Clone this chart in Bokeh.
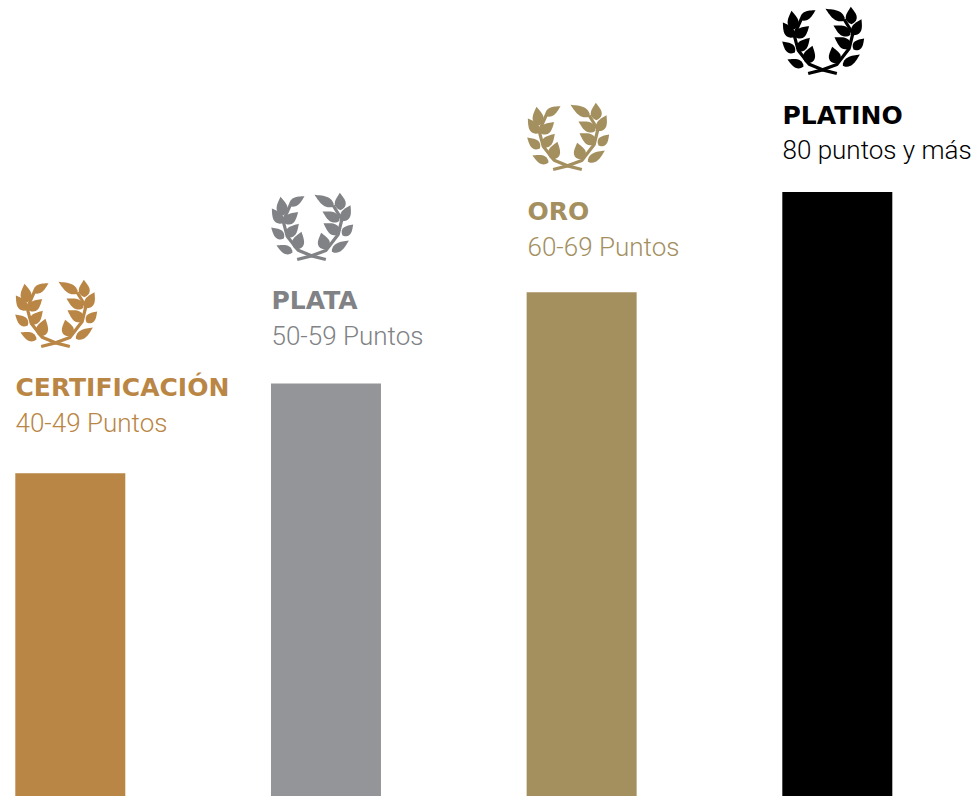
import math
from bokeh.plotting import figure
from bokeh.models import Range1d
from bokeh.core.properties import value
from bokeh.embed import file_html
from bokeh.resources import INLINE

# data
levels = ["CERTIFICACIÓN", "PLATA", "ORO", "PLATINO"]
ranges_txt = ["40-49 Puntos", "50-59 Puntos", "60-69 Puntos", "80 puntos y más"]
bar_values = [40.1, 51.25, 62.55, 75.0]
bar_colors = ["#BA8645", "#939598", "#A48F5F", "#000000"]
icon_colors = ["#BA8645", "#808285", "#A48F5F", "#000000"]
title_colors = ["#BA8645", "#808285", "#A48F5F", "#000000"]
sub_colors = ["#BA8645", "#808285", "#A48F5F", "#000000"]

# layout (page pixels)
W, H = 978, 796
PX_PER_VALUE = 8.06
STEP = 255.67
FIRST_CENTRE = 69.8
BAR_PX = 110
left_px = [15, 271, 527, 782]
icon_top = [281, 194, 104, 8]
title_y = [387, 300, 211, 115]
sub_y = [422, 335, 246, 149]

# laurel artwork: (base x, base y, tip x, tip y, width) in 3x local units
LEAVES = [
    (68, 48, 114, 20, 25), (50, 78, 42, 22, 33), (55, 102, 95, 68, 30), (47, 102, 16, 57, 30),
    (60, 142, 97, 103, 30), (52, 147, 14, 114, 28), (88, 180, 105, 127, 36), (78, 189, 30, 168, 26),
    (202, 50, 144, 16, 28), (222, 62, 220, 10, 33), (219, 94, 168, 66, 30), (227, 95, 252, 47, 30),
    (220, 132, 171, 101, 33), (228, 138, 260, 105, 28), (177, 180, 164, 130, 36), (196, 187, 247, 153, 26),
]
STEMS = [
    [(178, 210), (135, 199), (95, 182), (62, 140), (50, 95), (72, 45)],
    [(92, 210), (135, 199), (178, 183), (215, 135), (226, 90), (200, 48)],
]


def leaf(bx, by, tx, ty, w, ox, oy):
    dx, dy = tx - bx, ty - by
    n = math.hypot(dx, dy)
    ux, uy = dx / n, dy / n
    nx, ny = -uy, ux
    xs, ys = [], []
    ts = [i / 14 for i in range(15)]
    prof = [math.sin(math.pi * t ** 0.72) * w / 2 for t in ts]
    for t, h in zip(ts, prof):
        xs.append(ox + (bx + dx * t + nx * h) / 3)
        ys.append(oy + (by + dy * t + ny * h) / 3)
    for t, h in zip(reversed(ts), reversed(prof)):
        xs.append(ox + (bx + dx * t - nx * h) / 3)
        ys.append(oy + (by + dy * t - ny * h) / 3)
    return xs, ys


p = figure(width=W, height=H, output_backend="svg", toolbar_location=None,
           x_range=Range1d(-FIRST_CENTRE / STEP, (W - FIRST_CENTRE) / STEP),
           y_range=Range1d(0, H / PX_PER_VALUE),
           min_border=0, outline_line_color=None, x_axis_type=None, y_axis_type=None)
p.grid.visible = False
p.background_fill_color = "white"
p.border_fill_color = "white"
p.extra_x_ranges["px"] = Range1d(0, W)
p.extra_y_ranges["px"] = Range1d(H, 0)

p.vbar(x=list(range(len(levels))), top=bar_values, bottom=0, width=BAR_PX / STEP,
       color=bar_colors, line_color=None)

for i in range(len(levels)):
    ox, oy = left_px[i] - 5, icon_top[i] - 5
    shapes = [leaf(*l, ox, oy) for l in LEAVES]
    p.patches([s[0] for s in shapes], [s[1] for s in shapes], fill_color=icon_colors[i], line_color=None,
              x_range_name="px", y_range_name="px")
    p.multi_line([[ox + a / 3 for a, _ in s] for s in STEMS],
                 [[oy + b / 3 for _, b in s] for s in STEMS],
                 line_color=icon_colors[i], line_width=3.2, x_range_name="px", y_range_name="px")

p.text(x=left_px, y=title_y, text=levels, text_color=title_colors,
       text_font=value("DejaVu Sans"), text_font_style="bold", text_font_size="25px",
       text_baseline="alphabetic", x_range_name="px", y_range_name="px")
p.text(x=left_px, y=sub_y, text=ranges_txt, text_color=sub_colors,
       text_font=value("Roboto Light"), text_font_size="26px",
       text_baseline="alphabetic", x_range_name="px", y_range_name="px")

open("out.html", "w").write(file_html(p, INLINE))
